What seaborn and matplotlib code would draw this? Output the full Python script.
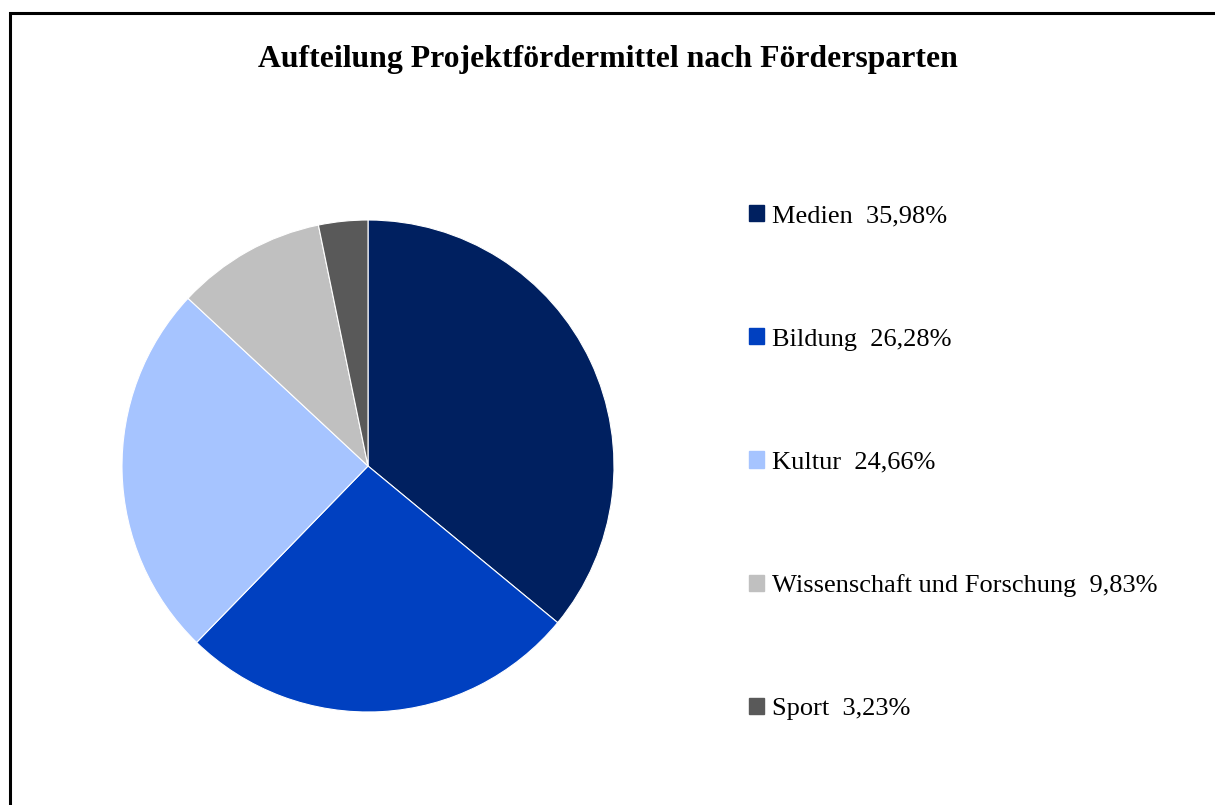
import matplotlib.pyplot as plt
import matplotlib.patches as mpatches
import seaborn as sns

# Daten
sparten = ['Medien', 'Bildung', 'Kultur', 'Wissenschaft und Forschung', 'Sport']
anteile = [35.98, 26.28, 24.66, 9.83, 3.23]
farben = ['#002060', '#0040C0', '#A6C4FF', '#C0C0C0', '#595959']

sns.set_theme(style='white')
plt.rcParams['font.family'] = ['Liberation Serif', 'DejaVu Serif']
plt.rcParams['text.color'] = 'black'

fig = plt.figure(figsize=(12.15, 8.05), dpi=100)
W, H = 1215, 805

# Rahmen um das Diagramm
rahmen = mpatches.Rectangle((9.5 / W, -0.1), 1.2, 1 - 13.5 / H + 0.1, transform=fig.transFigure,
                            fill=False, edgecolor='black', linewidth=2.2, clip_on=False)
fig.patches.append(rahmen)

# Kreisdiagramm
cx, cy, r = 368, 466, 246
ax = fig.add_axes([(cx - r) / W, (H - cy - r) / H, 2 * r / W, 2 * r / H])
wedges, _ = ax.pie(anteile, colors=farben, startangle=90, counterclock=False,
                   wedgeprops=dict(edgecolor='white', linewidth=0.8))
ax.set_xlim(-1, 1)
ax.set_ylim(-1, 1)
ax.set_aspect('equal')

# Titel
fig.text(0.5, 1 - 60 / H, 'Aufteilung Projektfördermittel nach Fördersparten', ha='center', va='center',
         fontsize=22.9, fontweight='bold')

# Legende
labels = [f'{s}  {str(a).replace(".", ",")}%' for s, a in zip(sparten, anteile)]
handles = [mpatches.Patch(color=c) for c in farben]
fig.legend(handles, labels, loc='upper left', bbox_to_anchor=(749 / W, 1 - 205 / H),
           frameon=False, fontsize=19, handlelength=0.58, handleheight=0.58,
           handletextpad=0.3, labelspacing=3.81, borderpad=0, borderaxespad=0)

plt.savefig('out.png', dpi=100)
